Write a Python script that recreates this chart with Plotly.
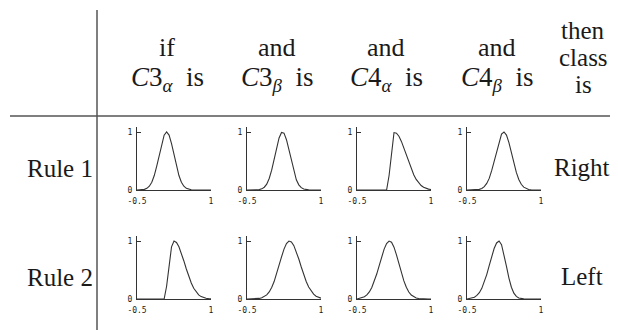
import plotly.graph_objects as go

# ── Data: membership curves ──────────────────────────────────────────────────
x_vals = [-0.5, -0.45, -0.4, -0.35, -0.3, -0.25, -0.2, -0.15, -0.1, -0.05,
          0.0, 0.05, 0.1, 0.15, 0.2, 0.25, 0.3, 0.35, 0.4, 0.45,
          0.5, 0.55, 0.6, 0.65, 0.7, 0.75, 0.8, 0.85, 0.9, 0.95, 1.0]

rule1_c3_alpha = [0, 0.001, 0.004, 0.011, 0.029, 0.066, 0.135, 0.249, 0.411, 0.607,
                  0.8, 0.946, 1.0, 0.946, 0.8, 0.607, 0.411, 0.249, 0.135, 0.066,
                  0.029, 0.011, 0.004, 0.001, 0, 0, 0, 0, 0, 0, 0]
rule1_c3_beta = [0, 0, 0, 0.001, 0.002, 0.007, 0.02, 0.048, 0.1, 0.198,
                 0.341, 0.526, 0.726, 0.897, 0.991, 0.98, 0.867, 0.687, 0.487, 0.309,
                 0.175, 0.089, 0.04, 0.016, 0.006, 0.002, 0.001, 0, 0, 0, 0]
rule1_c4_alpha = [0, 0, 0, 0, 0, 0, 0, 0, 0, 0,
                  0, 0, 0, 0.25, 0.65, 0.99, 0.98, 0.928, 0.838, 0.724,
                  0.599, 0.475, 0.36, 0.262, 0.182, 0.121, 0.077, 0.047, 0.028, 0.015, 0.008]
rule1_c4_beta = [0, 0, 0.001, 0.002, 0.004, 0.011, 0.026, 0.057, 0.113, 0.2,
                 0.333, 0.498, 0.68, 0.847, 0.964, 1.0, 0.946, 0.817, 0.644, 0.463,
                 0.303, 0.181, 0.099, 0.049, 0.022, 0.009, 0.004, 0.001, 0, 0, 0]

rule2_c3_alpha = [0, 0, 0, 0, 0, 0, 0, 0, 0, 0,
                  0, 0, 0.22, 0.6, 0.9, 1.0, 0.974, 0.9, 0.789, 0.656,
                  0.518, 0.388, 0.275, 0.186, 0.119, 0.072, 0.041, 0.023, 0.012, 0.006, 0.003]
rule2_c3_beta = [0, 0, 0.001, 0.002, 0.005, 0.01, 0.02, 0.039, 0.071, 0.122,
                 0.198, 0.301, 0.43, 0.576, 0.726, 0.86, 0.956, 0.999, 0.984, 0.92,
                 0.817, 0.689, 0.552, 0.42, 0.303, 0.208, 0.135, 0.084, 0.049, 0.027, 0.015]
rule2_c4_alpha = [0, 0.01, 0.02, 0.039, 0.071, 0.122, 0.198, 0.3, 0.43, 0.576,
                  0.726, 0.86, 0.956, 0.999, 0.978, 0.894, 0.762, 0.607, 0.45, 0.312,
                  0.202, 0.121, 0.068, 0.036, 0.018, 0.008, 0.003, 0.001, 0, 0, 0]
rule2_c4_beta = [0, 0.007, 0.015, 0.031, 0.061, 0.109, 0.183, 0.287, 0.421, 0.575,
                 0.732, 0.871, 0.966, 1.0, 0.938, 0.775, 0.563, 0.36, 0.203, 0.101,
                 0.044, 0.017, 0.006, 0.002, 0, 0, 0, 0, 0, 0, 0]

rule_names = ["Rule 1", "Rule 2"]
rule_classes = ["Right", "Left"]
header_top = ["if", "and", "and", "and"]
header_vars = ["<i>C</i>3<sub><i>α</i></sub>&nbsp; is", "<i>C</i>3<sub><i>β</i></sub>&nbsp; is",
               "<i>C</i>4<sub><i>α</i></sub>&nbsp; is", "<i>C</i>4<sub><i>β</i></sub>&nbsp; is"]
then_lines = ["then", "class", "is"]
x_ticks = [-0.5, 1]
x_ticktext = ["-0.5", "1"]
y_ticks = [0, 1]
y_ticktext = ["0", "1"]

curves = [
    [rule1_c3_alpha, rule1_c3_beta, rule1_c4_alpha, rule1_c4_beta],
    [rule2_c3_alpha, rule2_c3_beta, rule2_c4_alpha, rule2_c4_beta],
]

# ── Layout geometry (pixels of the 618x330 picture) ──────────────────────────
# the page puts the figure 8px in from the corner, so the figure itself is
# 8px smaller and every position is shifted back by that much
OFF = 8
W, H = 618 - OFF, 330 - OFF
col_x = [137, 247, 357, 467]
plot_w = 74
row_y0 = [190, 299]
unit_h = 58
y_top = 1.08
header_x = [167, 277, 386, 497]
serif = "Liberation Serif"
mono = "DejaVu Sans Mono"
ink = "#1a1a1a"


def px(x):
    return (x - OFF) / W


def py(y):
    return 1 - (y - OFF) / H


fig = go.Figure()
axes = {}
n = 0
for r, row in enumerate(curves):
    for c, yv in enumerate(row):
        n += 1
        sfx = "" if n == 1 else str(n)
        fig.add_trace(go.Scatter(
            x=x_vals, y=yv, mode="lines",
            line=dict(color="#333333", width=1.1),
            xaxis="x" + sfx, yaxis="y" + sfx,
            showlegend=False, hoverinfo="skip",
        ))
        axes["xaxis" + sfx] = dict(
            domain=[px(col_x[c]), px(col_x[c] + plot_w)],
            anchor="y" + sfx, range=[-0.5, 1], automargin=False,
            tickvals=x_ticks, ticktext=x_ticktext,
            ticks="inside", ticklen=4, tickcolor="#333333",
            showline=True, linecolor="#333333", linewidth=1,
            showgrid=False, zeroline=False, ticklabelstandoff=3,
            tickfont=dict(family=mono, size=8, color=ink),
        )
        axes["yaxis" + sfx] = dict(
            domain=[py(row_y0[r]), py(row_y0[r] - y_top * unit_h)],
            anchor="x" + sfx, range=[0, y_top], automargin=False,
            tickvals=y_ticks, ticktext=y_ticktext,
            ticks="inside", ticklen=4, tickcolor="#333333",
            showline=True, linecolor="#333333", linewidth=1,
            showgrid=False, zeroline=False, ticklabelstandoff=2,
            tickfont=dict(family=mono, size=8, color=ink),
        )

annotations = []


def text(x, y, s, size):
    annotations.append(dict(
        x=px(x), y=py(y), xref="paper", yref="paper", text=s, showarrow=False,
        xanchor="center", yanchor="middle",
        font=dict(family=serif, size=size, color=ink),
    ))


for i in range(4):
    text(header_x[i], 47, header_top[i], 26)
    text(header_x[i], 79, header_vars[i], 27)
for i, s in enumerate(then_lines):
    text(583, 31 + 27 * i, s, 25)
for r in range(2):
    text(60, row_y0[r] - 22, rule_names[r], 25)
    text(582, row_y0[r] - 23, rule_classes[r], 25)

shapes = [
    dict(type="line", xref="paper", yref="paper", x0=px(97), x1=px(97),
         y0=py(10), y1=py(330), line=dict(color="#555555", width=1.5)),
    dict(type="line", xref="paper", yref="paper", x0=px(10), x1=px(610),
         y0=py(116), y1=py(116), line=dict(color="#555555", width=1.5)),
]

fig.update_layout(
    width=W, height=H,
    margin=dict(l=0, r=0, t=0, b=0, pad=0, autoexpand=False),
    paper_bgcolor="white", plot_bgcolor="white",
    annotations=annotations, shapes=shapes,
    **axes,
)

fig.write_html("out.html")
